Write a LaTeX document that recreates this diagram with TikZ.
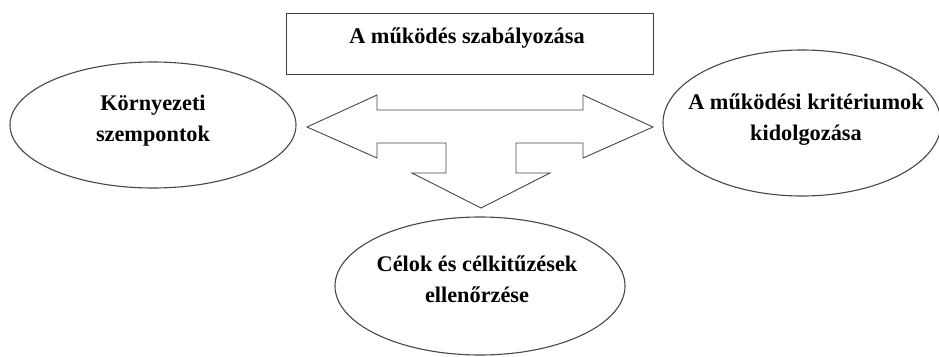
\documentclass[tikz,border=0pt]{standalone}
\usepackage{fontspec}
\setmainfont{Liberation Serif}
\usetikzlibrary{shapes.geometric}
\begin{document}
\begin{tikzpicture}[x=1pt,y=-1pt,
  outl/.style={draw=black!72,line width=1.1pt},
  ell/.style={outl,ellipse,inner sep=0pt},
  lbl/.style={font=\fontsize{22.3}{31}\selectfont\bfseries,align=center,inner sep=0pt,anchor=base}]
\useasboundingbox (0,0) rectangle (939,356);
% top box
\node[outl,draw=black!75,line width=0.9pt,minimum width=367pt,minimum height=61pt,inner sep=0pt] (top) at (469.5,43.5) {};
\node[lbl] (toptxt) at (467,43) {A működés szabályozása};
% ellipses
\node[ell,minimum width=286pt,minimum height=126pt] (left) at (153,125) {};
\node[ell,minimum width=278pt,minimum height=146pt] (right) at (802,123) {};
\node[ell,minimum width=290pt,minimum height=138pt] (bottom) at (480,286) {};
\node[lbl] (lefttxt) at (153,141) {Környezeti\\szempontok};
\node[lbl] (righttxt) at (806,140) {A működési kritériumok\\kidolgozása};
\node[lbl] (bottomtxt) at (477,302) {Célok és célkitűzések\\ellenőrzése};
% three-headed arrow
\draw[draw=black!72,line width=0.9pt,line join=miter]
  (307,127) -- (377,95) -- (377,110) -- (583,110) -- (583,95) -- (653,127)
  -- (583,158) -- (583,143) -- (516,143) -- (516,173) -- (550,173)
  -- (481,208) -- (412,173) -- (446,173) -- (446,143) -- (377,143)
  -- (377,158) -- cycle;
\end{tikzpicture}
\end{document}
